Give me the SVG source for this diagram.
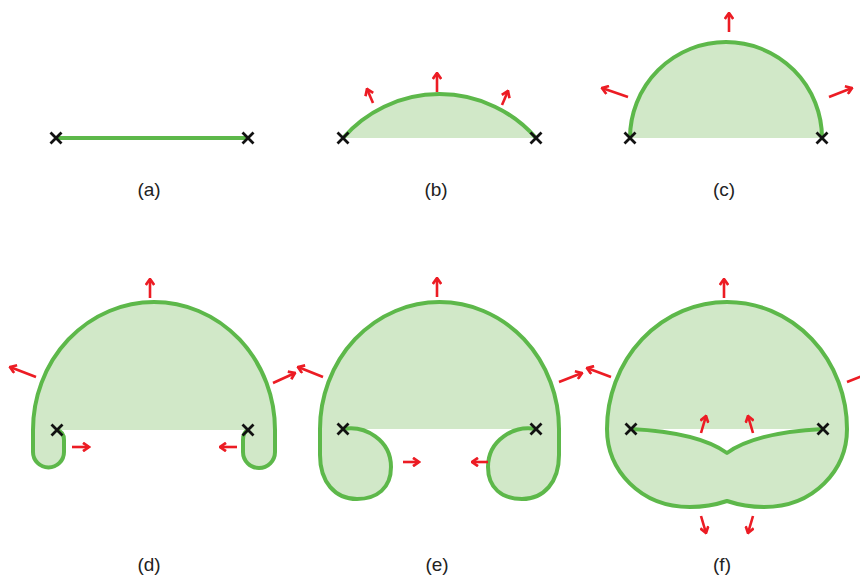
<svg xmlns="http://www.w3.org/2000/svg" width="860" height="578" viewBox="0 0 860 578">
<defs>
<style>
.fill{fill:#d1e8c8;stroke:none}
.edge{fill:none;stroke:#5db84a;stroke-width:4;stroke-linejoin:round;stroke-linecap:round}
.x{stroke:#111;stroke-width:2.8;fill:none}
.arr{stroke:#ec1c24;stroke-width:2.6;fill:none;marker-end:url(#ah)}
.lbl{font-family:"Liberation Sans",Arial,sans-serif;font-size:19px;fill:#222;text-anchor:middle}
</style>
<marker id="ah" viewBox="0 0 10 10" refX="8.5" refY="5" markerWidth="10" markerHeight="10" markerUnits="userSpaceOnUse" orient="auto">
<path d="M2.5,0.8 L8.5,5 L2.5,9.2" fill="none" stroke="#ec1c24" stroke-width="2.7" stroke-linejoin="miter"/>
</marker>
<g id="cross"><path class="x" d="M-5.5,-5.5 L5.5,5.5 M-5.5,5.5 L5.5,-5.5"/></g>
</defs>
<rect width="860" height="578" fill="#fff"/>

<g id="panel-a">
<line class="edge" x1="57" y1="138" x2="248" y2="138"/>
<use href="#cross" x="56" y="138"/>
<use href="#cross" x="248" y="138"/>
<text class="lbl" x="149" y="196">(a)</text>
</g>

<g id="panel-b">
<path class="fill" d="M343,138 A128,128 0 0 1 536,138 Z"/>
<path class="edge" d="M343,138 A128,128 0 0 1 536,138"/>
<use href="#cross" x="343" y="138"/>
<use href="#cross" x="536" y="138"/>
<text class="lbl" x="436" y="196">(b)</text>
</g>

<g id="panel-c">
<path class="fill" d="M630,138 A96,96 0 0 1 822,138 Z"/>
<path class="edge" d="M630,138 A96,96 0 0 1 822,138"/>
<use href="#cross" x="630" y="138"/>
<use href="#cross" x="822" y="138"/>
<text class="lbl" x="724" y="196">(c)</text>
</g>

<g id="panel-d">
<path class="fill" d="M57,430 Q64,432 64,440 L64,452 A15.5,15.5 0 0 1 33,452 L33,430 A121,128 0 0 1 275,430 L275,452 A16,16 0 0 1 243,452 L243,440 Q243,432 248,430 Z"/>
<path class="edge" d="M57,430 Q64,432 64,440 L64,452 A15.5,15.5 0 0 1 33,452 L33,430 A121,128 0 0 1 275,430 L275,452 A16,16 0 0 1 243,452 L243,440 Q243,432 248,430"/>
<use href="#cross" x="57" y="430"/>
<use href="#cross" x="248" y="430"/>
<text class="lbl" x="149" y="571">(d)</text>
</g>

<g id="panel-e">
<path class="fill" d="M343,429 C365,425 391,440 391,467 C391,488 377,499 357,499 C335,499 320,482 320,455 L320,429 A119.5,127 0 0 1 559,429 L559,455 C559,482 544,499 522,499 C502,499 488,488 488,467 C488,440 514,425 536,429 Z"/>
<path class="edge" d="M343,429 C365,425 391,440 391,467 C391,488 377,499 357,499 C335,499 320,482 320,455 L320,429 A119.5,127 0 0 1 559,429 L559,455 C559,482 544,499 522,499 C502,499 488,488 488,467 C488,440 514,425 536,429"/>
<use href="#cross" x="343" y="429"/>
<use href="#cross" x="536" y="429"/>
<text class="lbl" x="437" y="571">(e)</text>
</g>

<g id="panel-f">
<path class="fill" d="M607,429 A120,127 0 0 1 847,429 C847,470 814,507 764,507 C749,507 736,504 727,501 C718,504 705,507 690,507 C640,507 607,470 607,429 Z"/>
<path fill="#fff" d="M631,429 C670,431 705,437 727,453 C749,437 784,431 823,429 Z"/>
<path class="edge" d="M607,429 A120,127 0 0 1 847,429 C847,470 814,507 764,507 C749,507 736,504 727,501 C718,504 705,507 690,507 C640,507 607,470 607,429 Z"/>
<path class="edge" d="M631,429 C670,431 705,437 727,453 C749,437 784,431 823,429"/>
<use href="#cross" x="631" y="429"/>
<use href="#cross" x="823" y="429"/>
<text class="lbl" x="722" y="571">(f)</text>
</g>

<g id="arrows">
<line class="arr" x1="437" y1="92" x2="437" y2="73"/>
<line class="arr" x1="373" y1="103" x2="367" y2="89"/>
<line class="arr" x1="502" y1="105" x2="508" y2="91"/>

<line class="arr" x1="729" y1="32" x2="729" y2="13"/>
<line class="arr" x1="628" y1="97" x2="602" y2="88"/>
<line class="arr" x1="829" y1="97" x2="852" y2="88"/>

<line class="arr" x1="150" y1="298" x2="150" y2="279"/>
<line class="arr" x1="36" y1="377" x2="10" y2="367"/>
<line class="arr" x1="273" y1="383" x2="295" y2="373"/>
<line class="arr" x1="72" y1="447" x2="89" y2="447"/>
<line class="arr" x1="237" y1="447" x2="220" y2="447"/>

<line class="arr" x1="437" y1="297" x2="437" y2="278"/>
<line class="arr" x1="323" y1="377" x2="298" y2="367"/>
<line class="arr" x1="559" y1="382" x2="582" y2="373"/>
<line class="arr" x1="403" y1="462" x2="419" y2="462"/>
<line class="arr" x1="488" y1="462" x2="472" y2="462"/>

<line class="arr" x1="724" y1="298" x2="724" y2="279"/>
<line class="arr" x1="611" y1="377" x2="587" y2="368"/>
<line class="arr" x1="847" y1="382" x2="870" y2="373"/>
<line class="arr" x1="701" y1="433" x2="706" y2="416"/>
<line class="arr" x1="753" y1="433" x2="748" y2="416"/>
<line class="arr" x1="701" y1="516" x2="706" y2="533"/>
<line class="arr" x1="753" y1="516" x2="748" y2="533"/>
</g>
</svg>
